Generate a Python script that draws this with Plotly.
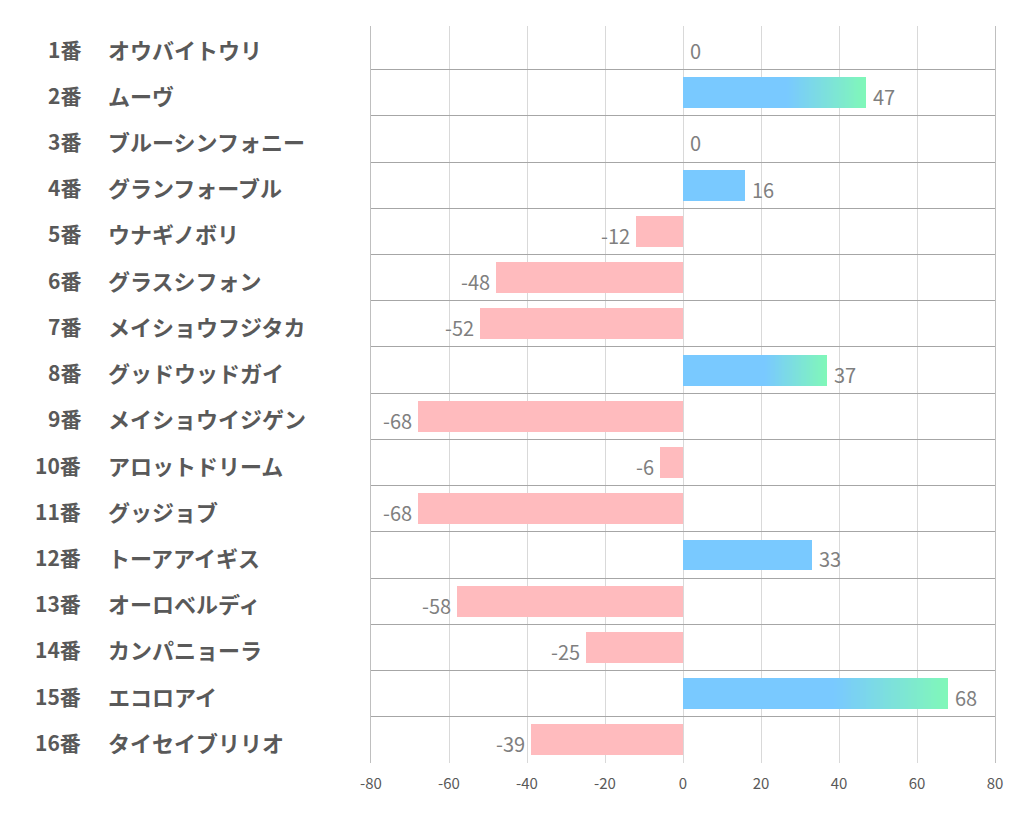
import plotly.graph_objects as go

# ---- data ----
horse_nums = ["1番", "2番", "3番", "4番", "5番", "6番", "7番", "8番",
              "9番", "10番", "11番", "12番", "13番", "14番", "15番", "16番"]
horse_names = ["オウバイトウリ", "ムーヴ", "ブルーシンフォニー", "グランフォーブル",
               "ウナギノボリ", "グラスシフォン", "メイショウフジタカ", "グッドウッドガイ",
               "メイショウイジゲン", "アロットドリーム", "グッジョブ", "トーアアイギス",
               "オーロベルディ", "カンパニョーラ", "エコロアイ", "タイセイブリリオ"]
values = [0, 47, 0, 16, -12, -48, -52, 37, -68, -6, -68, 33, -58, -25, 68, -39]
x_ticks = [-80, -60, -40, -20, 0, 20, 40, 60, 80]

# ---- style ----
BLUE = (121, 201, 255)
GREEN = (128, 248, 184)
PINK = "rgb(255,187,190)"
BAR_W = 0.67
GRAD_MIN = 35        # bars at or above this value get the blue->green fade
GRAD_START = 0.57    # fraction of bar length where the fade begins
N_SEG = 40
FONT = "Noto Sans CJK JP"

fig = go.Figure()

# negative bars
neg_y = [n for n, v in zip(horse_nums, values) if v < 0]
neg_x = [v for v in values if v < 0]
fig.add_trace(go.Bar(x=neg_x, y=neg_y, orientation="h", width=BAR_W,
                     marker=dict(color=PINK, line=dict(width=0)),
                     hoverinfo="skip", showlegend=False))

# positive bars: solid blue part
pos_y = [n for n, v in zip(horse_nums, values) if v > 0]
pos_x = [v * GRAD_START if v >= GRAD_MIN else v for v in values if v > 0]
fig.add_trace(go.Bar(x=pos_x, y=pos_y, orientation="h", width=BAR_W,
                     marker=dict(color="rgb(%d,%d,%d)" % BLUE, line=dict(width=0)),
                     hoverinfo="skip", showlegend=False))

# gradient segments
g_y = [n for n, v in zip(horse_nums, values) if v >= GRAD_MIN]
g_v = [v for v in values if v >= GRAD_MIN]
for k in range(N_SEG):
    t = (k + 0.5) / N_SEG
    col = tuple(round(BLUE[i] + (GREEN[i] - BLUE[i]) * t) for i in range(3))
    seg = [v * (1 - GRAD_START) / N_SEG for v in g_v]
    base = [v * GRAD_START + k * s for v, s in zip(g_v, seg)]
    width = [s * (1.6 if k < N_SEG - 1 else 1.0) for s in seg]
    fig.add_trace(go.Bar(x=width, y=g_y, base=base, orientation="h", width=BAR_W,
                         marker=dict(color="rgb(%d,%d,%d)" % col, line=dict(width=0)),
                         hoverinfo="skip", showlegend=False))

# value labels
for n, v in zip(horse_nums, values):
    fig.add_annotation(x=v, y=n, xref="x", yref="y", text=str(v), showarrow=False,
                       xanchor="right" if v < 0 else "left",
                       xshift=-4 if v < 0 else 5, yshift=-4,
                       font=dict(family=FONT, size=20, color="#7f7f7f"))

# y labels (number + name)
for n, name in zip(horse_nums, horse_names):
    fig.add_annotation(x=-0.4615, y=n, xref="paper", yref="y", text="<b>%s</b>" % n,
                       showarrow=False, xanchor="right", yshift=-2,
                       font=dict(family=FONT, size=21, color="#595959"))
    fig.add_annotation(x=-0.4245, y=n, xref="paper", yref="y", text="<b>%s</b>" % name,
                       showarrow=False, xanchor="left", yshift=-2,
                       font=dict(family=FONT, size=22, color="#595959"))

fig.update_layout(
    width=1006, height=818,
    margin=dict(l=363, r=19, t=18, b=63),
    barmode="overlay", bargap=0,
    plot_bgcolor="white", paper_bgcolor="white",
    xaxis=dict(range=[-80, 80], tickvals=x_ticks, ticktext=[str(t) for t in x_ticks],
               showgrid=True, gridcolor="#d9d9d9", gridwidth=1,
               zeroline=False, showline=False, ticks="", ticklabelstandoff=10,
               tickfont=dict(family=FONT, size=15, color="#595959"),
               fixedrange=True),
    yaxis=dict(categoryorder="array", categoryarray=horse_nums, autorange="reversed",
               tickson="boundaries", showgrid=True, gridcolor="#a6a6a6", gridwidth=1,
               showticklabels=False, ticks="", zeroline=False,
               showline=True, linecolor="#bfbfbf", mirror=True, fixedrange=True),
)

fig.write_html("out.html")
